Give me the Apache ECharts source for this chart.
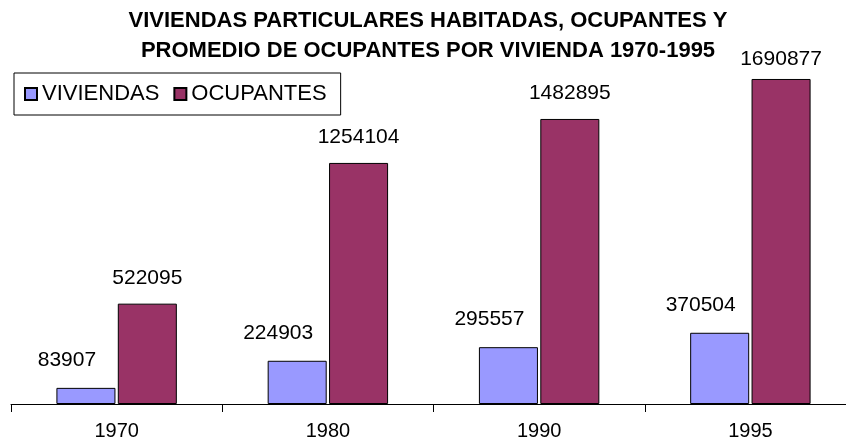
<!DOCTYPE html>
<html>
<head>
<meta charset="utf-8">
<script src="https://cdn.jsdelivr.net/npm/echarts@6/dist/echarts.min.js"></script>
<style>
  html, body { margin: 0; padding: 0; background: #fff; overflow: hidden; }
  #chart { width: 860px; height: 445px; }
</style>
</head>
<body>
<div id="chart"></div>
<script>
const years = ['1970', '1980', '1990', '1995'];
const viviendas = [83907, 224903, 295557, 370504];
const ocupantes = [522095, 1254104, 1482895, 1690877];

// the chart div is a bit wider than the window: the last category runs past the right edge
let myChart = echarts.init(document.getElementById('chart'));
let font = 'Liberation Sans, Arial, sans-serif';
let option = {
  backgroundColor: '#fff',
  animation: false,
  title: {
    text: 'VIVIENDAS PARTICULARES HABITADAS, OCUPANTES Y\nPROMEDIO DE OCUPANTES POR VIVIENDA 1970-1995',
    left: 423,
    textAlign: 'center',
    top: 1,
    textStyle: {
      fontFamily: font,
      fontWeight: 'bold',
      fontSize: 22,
      lineHeight: 30,
      color: '#000'
    }
  },
  legend: {
    left: 14,
    top: 73,
    orient: 'horizontal',
    padding: [10, 14, 10, 10],
    itemWidth: 12,
    itemHeight: 12,
    itemGap: 14,
    borderColor: '#000',
    borderWidth: 1,
    icon: 'rect',
    textStyle: { fontFamily: font, fontSize: 22, color: '#000' },
    data: ['VIVIENDAS', 'OCUPANTES']
  },
  grid: { left: 11, top: 58, bottom: 41, width: 845 },
  xAxis: {
    type: 'category',
    data: years,
    axisLine: { lineStyle: { color: '#000', width: 1 } },
    axisTick: { show: true, length: 8, lineStyle: { color: '#000', width: 1 } },
    axisLabel: { margin: 17, fontFamily: font, fontSize: 20, color: '#000' }
  },
  yAxis: {
    type: 'value',
    min: 0,
    max: 1800000,
    show: false
  },
  series: [
    {
      name: 'VIVIENDAS',
      type: 'bar',
      data: viviendas,
      barGap: '4%',
      barCategoryGap: '43%',
      itemStyle: { color: '#9999FF', borderColor: '#000', borderWidth: 1 },
      label: {
        show: true,
        position: 'top',
        distance: 17,
        offset: [-19, 0],
        fontFamily: font,
        fontSize: 21,
        color: '#000'
      }
    },
    {
      name: 'OCUPANTES',
      type: 'bar',
      data: ocupantes.map(function (v, i) {
        return i === ocupantes.length - 1 ? { value: v, label: { distance: 9 } } : v;
      }),
      barGap: '4%',
      barCategoryGap: '43%',
      itemStyle: { color: '#993366', borderColor: '#000', borderWidth: 1 },
      label: {
        show: true,
        position: 'top',
        distance: 15,
        fontFamily: font,
        fontSize: 21,
        color: '#000'
      }
    }
  ]
};
myChart.setOption(option);
window.addEventListener('resize', function () { myChart.resize() })
</script>
</body>
</html>
